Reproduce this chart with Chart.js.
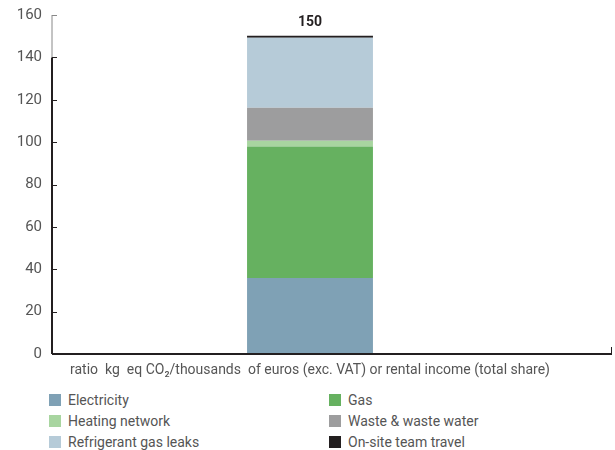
<!DOCTYPE html>
<html>
<head>
<meta charset="utf-8">
<script src="https://cdn.jsdelivr.net/npm/chart.js@4.4.0/dist/chart.umd.min.js"></script>
<style>
  body { margin: 0; background: #fff; font-family: Roboto, "DejaVu Sans", sans-serif; }
  #wrap { position: relative; width: 615px; height: 450px; }
  #chart-box { position: absolute; left: 0; top: 0; width: 615px; height: 385px; }
  #legend {
    position: absolute; left: 49px; top: 391px; width: 560px;
    display: grid; grid-template-columns: 280px 280px; row-gap: 4px;
    font-size: 14px; color: #555;
  }
  .item { display: flex; align-items: center; height: 17px; }
  .box { width: 12px; height: 12px; margin-right: 7px; flex: none; }
</style>
</head>
<body>
<div id="wrap">
  <div id="chart-box"><canvas id="co2"></canvas></div>
  <div id="legend"></div>
</div>
<script>
  // Données
  const categories = ["ratio  kg  eq CO₂/thousands  of euros (exc. VAT) or rental income (total share)"];
  const seriesNames = ["Electricity", "Gas", "Heating network", "Waste & waste water", "Refrigerant gas leaks", "On-site team travel"];
  const electricity = [35.9];
  const gas = [62];
  const heatingNetwork = [2.8];
  const waste = [15.5];
  const refrigerant = [33.1];
  const travel = [0.9];
  const yTicks = [0, 20, 40, 60, 80, 100, 120, 140, 160];

  const colors = ["#7fa1b5", "#66b160", "#a8d5a0", "#9d9d9e", "#b6cbd8", "#231f20"];
  const values = [electricity, gas, heatingNetwork, waste, refrigerant, travel];

  const datasets = seriesNames.map((name, i) => ({
    label: name,
    data: values[i],
    backgroundColor: colors[i],
    borderWidth: 0,
    categoryPercentage: 1,
    barPercentage: 0.244,
  }));

  /**
   * Dessine le total au-dessus de la pile, les petites graduations et le prolongement de l'axe X
   */
  const decorations = {
    id: "decorations",
    afterDraw(chart) {
      const ctx = chart.ctx;
      const x = chart.scales.x;
      const y = chart.scales.y;
      const area = chart.chartArea;

      // Axe Y : partie haute plus claire
      ctx.save();
      ctx.lineWidth = 1;
      ctx.strokeStyle = "#888";
      ctx.beginPath();
      ctx.moveTo(area.left, y.getPixelForValue(160));
      ctx.lineTo(area.left, y.getPixelForValue(140));
      ctx.stroke();
      ctx.lineWidth = 2;
      ctx.strokeStyle = "#231f20";
      ctx.beginPath();
      ctx.moveTo(area.left, y.getPixelForValue(140));
      ctx.lineTo(area.left, area.bottom);
      ctx.stroke();

      // Graduations vers l'intérieur
      yTicks.forEach((v) => {
        const py = Math.round(y.getPixelForValue(v)) + 0.5;
        ctx.lineWidth = 1;
        ctx.strokeStyle = v >= 160 ? "#888" : "#231f20";
        ctx.beginPath();
        ctx.moveTo(area.left, py);
        ctx.lineTo(area.left + 5, py);
        ctx.stroke();
      });

      // Axe X prolongé jusqu'au bord droit
      ctx.lineWidth = 2;
      ctx.strokeStyle = "#231f20";
      ctx.beginPath();
      ctx.moveTo(area.left, area.bottom);
      ctx.lineTo(612, area.bottom);
      ctx.stroke();
      ctx.lineWidth = 1;
      ctx.beginPath();
      ctx.moveTo(611.5, area.bottom);
      ctx.lineTo(611.5, area.bottom - 7);
      ctx.stroke();

      // Total au-dessus de la barre
      categories.forEach((c, i) => {
        const total = values.reduce((s, arr) => s + arr[i], 0);
        const px = x.getPixelForValue(i);
        const py = y.getPixelForValue(total);
        ctx.fillStyle = "#231f20";
        ctx.font = "bold 14px Roboto";
        ctx.textAlign = "center";
        ctx.textBaseline = "bottom";
        ctx.fillText(Math.round(total), px, py - 6);
      });
      ctx.restore();
    },
  };

  new Chart(document.getElementById("co2"), {
    type: "bar",
    data: { labels: categories, datasets: datasets },
    options: {
      responsive: true,
      maintainAspectRatio: false,
      animation: false,
      layout: { padding: { top: 15, right: 47, left: 0, bottom: 0 } },
      plugins: { legend: { display: false }, tooltip: { enabled: false } },
      scales: {
        x: {
          stacked: true,
          grid: { display: false, drawTicks: false },
          border: { display: false },
          ticks: { color: "#555", font: { family: "Roboto", size: 14 }, padding: 8 },
          afterFit: (scale) => { scale.height = 31; },
        },
        y: {
          stacked: true,
          min: 0,
          max: 160,
          grid: { display: false, drawTicks: false },
          border: { display: false },
          afterBuildTicks: (scale) => { scale.ticks = yTicks.map((v) => ({ value: v })); },
          ticks: { color: "#555", font: { family: "Roboto", size: 15 }, padding: 10 },
          afterFit: (scale) => {
            scale.width = 52;
            scale.paddingTop = 0;
            scale.paddingBottom = 0;
          },
        },
      },
    },
    plugins: [decorations],
  });

  // Légende HTML sur deux colonnes
  const legend = document.getElementById("legend");
  seriesNames.forEach((name, i) => {
    const item = document.createElement("div");
    item.className = "item";
    const box = document.createElement("span");
    box.className = "box";
    box.style.background = colors[i];
    const txt = document.createElement("span");
    txt.textContent = name;
    item.appendChild(box);
    item.appendChild(txt);
    legend.appendChild(item);
  });
</script>
</body>
</html>
